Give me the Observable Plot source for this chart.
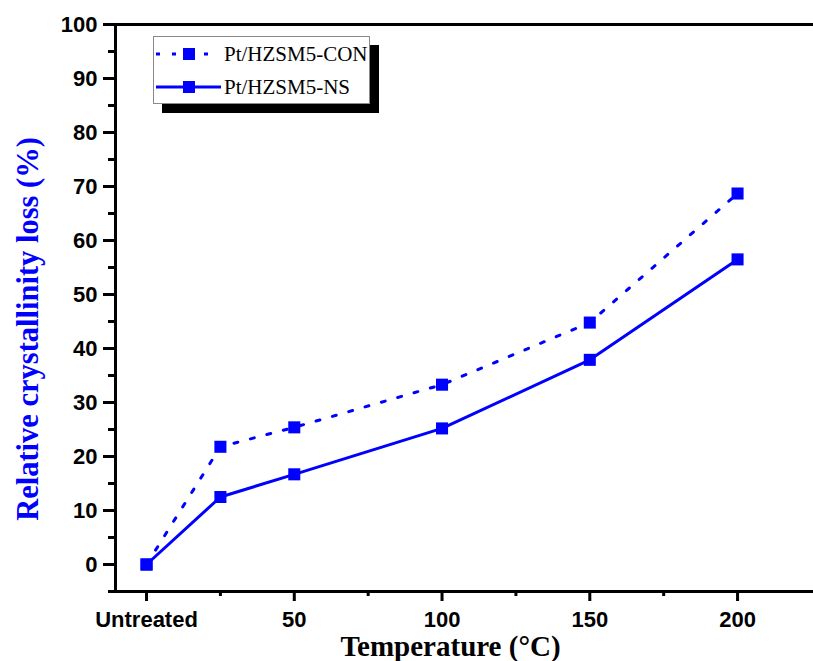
<!DOCTYPE html>
<html>
<head>
<meta charset="utf-8">
<script src="https://cdn.jsdelivr.net/npm/d3@7"></script>
<script src="https://cdn.jsdelivr.net/npm/@observablehq/plot@0.6"></script>
<style>
  html, body { margin: 0; padding: 0; background: #fff; }
  #wrap { position: relative; width: 813px; height: 661px; overflow: hidden; }
  #legend {
    position: absolute; left: 153px; top: 36px; width: 215px; height: 66px;
    background: #fff; border: 1px solid #8a8a8a; box-shadow: 9px 9px 0 #000;
    font-family: "Liberation Serif", "Times New Roman", serif; font-size: 21px; color: #000;
  }
  #legend .row { position: absolute; left: 0; height: 24px; }
  #legend .row span { position: absolute; left: 70px; top: 0; line-height: 24px; white-space: nowrap; }
</style>
</head>
<body>
<div id="wrap"></div>
<script>
// ---- data ----
const temps = [0, 25, 50, 100, 150, 200];
const conLoss = [0, 21.8, 25.4, 33.3, 44.8, 68.7];
const nsLoss = [0, 12.5, 16.7, 25.2, 37.9, 56.5];
const seriesNames = ["Pt/HZSM5-CON", "Pt/HZSM5-NS"];
const xTickValues = [0, 50, 100, 150, 200];
const xTickLabels = ["Untreated", "50", "100", "150", "200"];
const xMinorTicks = [25, 75, 125, 175];
const yTickValues = [0, 10, 20, 30, 40, 50, 60, 70, 80, 90, 100];
const yMinorTicks = [-5, 5, 15, 25, 35, 45, 55, 65, 75, 85, 95];
const xTitle = "Temperature (°C)";
const yTitle = "Relative crystallinity loss (%)";

const blue = "#0000ff";
const con = temps.map((t, i) => ({t, v: conLoss[i]}));
const ns = temps.map((t, i) => ({t, v: nsLoss[i]}));
const labelOf = new Map(xTickValues.map((v, i) => [v, xTickLabels[i]]));
const xDomain = [-10.5, 225.7];
const yDomain = [-5, 100];

const chart = Plot.plot({
  width: 813,
  height: 661,
  marginLeft: 115,
  marginRight: 0,
  marginTop: 24,
  marginBottom: 70,
  x: {domain: xDomain},
  y: {domain: yDomain},
  style: {
    fontFamily: "'Liberation Sans', Arial, sans-serif",
    fontSize: "22px",
    fontWeight: "bold",
    color: "#000",
    background: "#fff",
    overflow: "visible"
  },
  marks: [
    Plot.ruleY([yDomain[0], yDomain[1]], {stroke: "#000", strokeWidth: 3}),
    Plot.ruleX([xDomain[0]], {stroke: "#000", strokeWidth: 3}),
    Plot.axisY(yTickValues, {tickSize: 12, tickPadding: 6, strokeWidth: 3, label: null}),
    Plot.axisY(yMinorTicks, {tickSize: 7, strokeWidth: 3, tickFormat: () => "", label: null}),
    Plot.axisX(xTickValues, {tickSize: 10, tickPadding: 10, strokeWidth: 3, tickFormat: (d) => labelOf.get(d), label: null}),
    Plot.axisX(xMinorTicks, {tickSize: 5, strokeWidth: 3, tickFormat: () => "", label: null}),
    Plot.line(con, {x: "t", y: "v", stroke: blue, strokeWidth: 3, strokeDasharray: "4 13"}),
    Plot.line(ns, {x: "t", y: "v", stroke: blue, strokeWidth: 3}),
    Plot.dot(con, {x: "t", y: "v", symbol: "square", r: 6.8, fill: blue, stroke: "none"}),
    Plot.dot(ns, {x: "t", y: "v", symbol: "square", r: 6.8, fill: blue, stroke: "none"}),
    Plot.text([xTitle], {frameAnchor: "bottom", textAnchor: "middle", lineAnchor: "middle", dx: -14, dy: 55, text: d => d, fontFamily: "'Liberation Serif', 'Times New Roman', serif", fontSize: 29, fontWeight: "bold", fill: "#000"}),
    Plot.text([yTitle], {frameAnchor: "left", textAnchor: "middle", lineAnchor: "middle", rotate: -90, dx: -87, dy: 21, text: d => d, fontFamily: "'Liberation Serif', 'Times New Roman', serif", fontSize: 30.5, fontWeight: "bold", fill: blue})
  ]
});

const wrap = document.getElementById("wrap");
wrap.appendChild(chart);

// legend
const legend = document.createElement("div");
legend.id = "legend";
const rows = [
  {name: seriesNames[0], dash: "4 12", top: 5},
  {name: seriesNames[1], dash: null, top: 38}
];
for (const r of rows) {
  const row = document.createElement("div");
  row.className = "row";
  row.style.top = r.top + "px";
  row.style.width = "215px";
  const ns2 = "http://www.w3.org/2000/svg";
  const svg = document.createElementNS(ns2, "svg");
  svg.setAttribute("width", 70);
  svg.setAttribute("height", 24);
  svg.style.position = "absolute";
  svg.style.left = "0px";
  svg.style.top = "0px";
  const line = document.createElementNS(ns2, "line");
  line.setAttribute("x1", 2); line.setAttribute("x2", r.dash ? 58 : 67);
  line.setAttribute("y1", 12); line.setAttribute("y2", 12);
  line.setAttribute("stroke", blue); line.setAttribute("stroke-width", 3);
  if (r.dash) line.setAttribute("stroke-dasharray", r.dash);
  svg.appendChild(line);
  const sq = document.createElementNS(ns2, "rect");
  sq.setAttribute("x", 29); sq.setAttribute("y", 6);
  sq.setAttribute("width", 12); sq.setAttribute("height", 12);
  sq.setAttribute("fill", blue);
  svg.appendChild(sq);
  row.appendChild(svg);
  const span = document.createElement("span");
  span.textContent = r.name;
  row.appendChild(span);
  legend.appendChild(row);
}
wrap.appendChild(legend);
</script>
</body>
</html>
